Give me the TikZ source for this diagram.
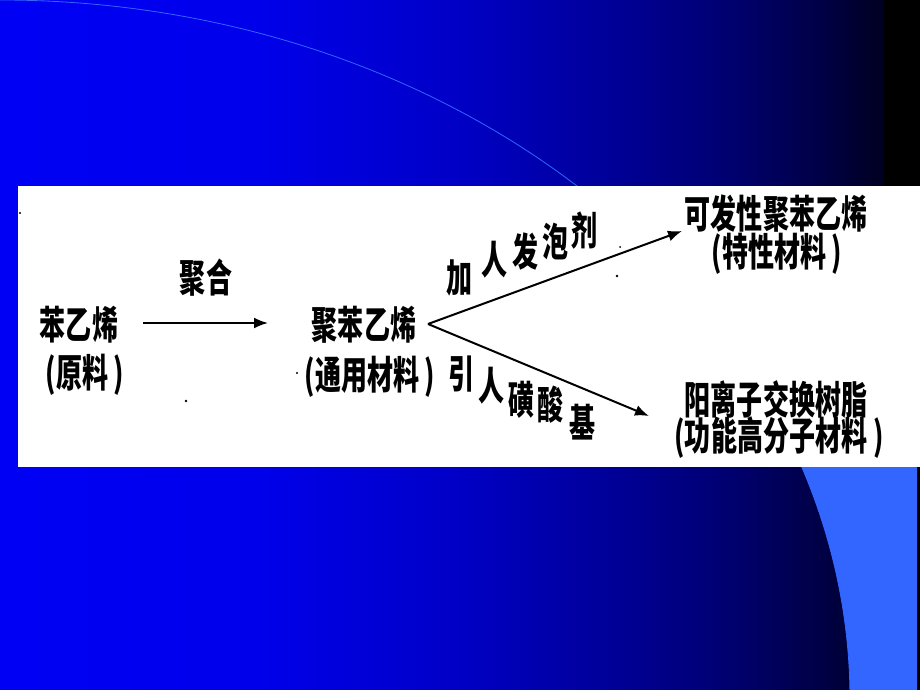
\documentclass[tikz,border=0pt]{standalone}
\usepackage{fontspec}
\newfontfamily\cjk[FakeStretch=0.667]{Noto Sans CJK SC}
\usetikzlibrary{arrows.meta}

\definecolor{bandblue}{RGB}{51,102,255}

\begin{document}
\begin{tikzpicture}[x=1pt,y=-1pt,
	txt/.style={font=\cjk\bfseries\fontsize{39}{42}\selectfont, inner sep=0pt, text height=30pt, text depth=2pt},
	flow/.style={line width=2pt, -{Latex[length=14pt,width=11pt]}}]
	\useasboundingbox (0,0) rectangle (920,690);
	%Slide background, blue fading to black
	\foreach \x in {0,4,...,916}{
		\pgfmathsetmacro\b{\x<250 ? 245-\x*0.04 : (\x<450 ? 235-(\x-250)*0.175 : (\x<600 ? 200-(\x-450)*0.3 : (\x<720 ? 155-(\x-600)*0.33 : (\x<820 ? 115-(\x-720)*0.45 : (\x<884 ? 70-(\x-820)*0.6 : 0)))))}
		\fill[fill={rgb,255:red,0;green,0;blue,\b}] (\x,0) rectangle (\x+4.6,690);
	}
	%Light band at the lower right
	\fill[bandblue] (801.3,466) arc [start angle=-19.5, end angle=0, x radius=850, y radius=700]
	-- (917,700) -- (917,466) -- cycle;
	%Thin arc of the template
	\draw[bandblue, line width=0.8pt] (0,700) ellipse [x radius=850, y radius=700];
	%White panel
	\fill[white] (18,186) rectangle (920,467);

	%Raw material
	\node[txt] (styrene) at (79,325) {苯乙烯};
	\node[txt] (styreneNote) at (85,373) {(原料 )};
	%Polymerisation
	\node[txt] (polymerise) at (206,278) {聚合};
	\coordinate (polyStart) at (143,323);
	\coordinate (polyEnd) at (268,323);
	\draw[flow] (polyStart) -- (polyEnd);

	%General material
	\node[txt] (polystyrene) at (364,325) {聚苯乙烯};
	\node[txt] (polystyreneNote) at (370,375) {(通用材料 )};

	%Branches
	\coordinate (fork) at (428,324);
	\coordinate (foamTip) at (682,231);
	\coordinate (resinTip) at (649,416);
	\draw[flow] (fork) -- (foamTip);
	\draw[flow] (fork) -- (resinTip);

	%Label of the upper branch
	\node[txt] (foamA) at (459,278) {加};
	\node[txt] (foamB) at (494,260) {人};
	\node[txt] (foamC) at (525,252) {发};
	\node[txt] (foamD) at (555,242) {泡};
	\node[txt] (foamE) at (584,231) {剂};
	%Label of the lower branch
	\node[txt] (sulfoA) at (461,374) {引};
	\node[txt] (sulfoB) at (491,386) {人};
	\node[txt] (sulfoC) at (521,400) {磺};
	\node[txt] (sulfoD) at (550,405) {酸};
	\node[txt] (sulfoE) at (582,423) {基};

	%Special material
	\node[txt] (foam) at (776,214) {可发性聚苯乙烯};
	\node[txt] (foamNote) at (777,252) {(特性材料 )};
	%Functional polymer
	\node[txt] (resin) at (776,400) {阳离子交换树脂};
	\node[txt] (resinNote) at (779,436) {(功能高分子材料 )};

	%Specks of the scan
	\fill (20,213) circle [radius=1.2];
	\fill (186,401) circle [radius=1.4];
	\fill (297,373) circle [radius=1.2];
	\fill (617,276) circle [radius=1.4];
	\fill (620,247) circle [radius=1];
\end{tikzpicture}
\end{document}
